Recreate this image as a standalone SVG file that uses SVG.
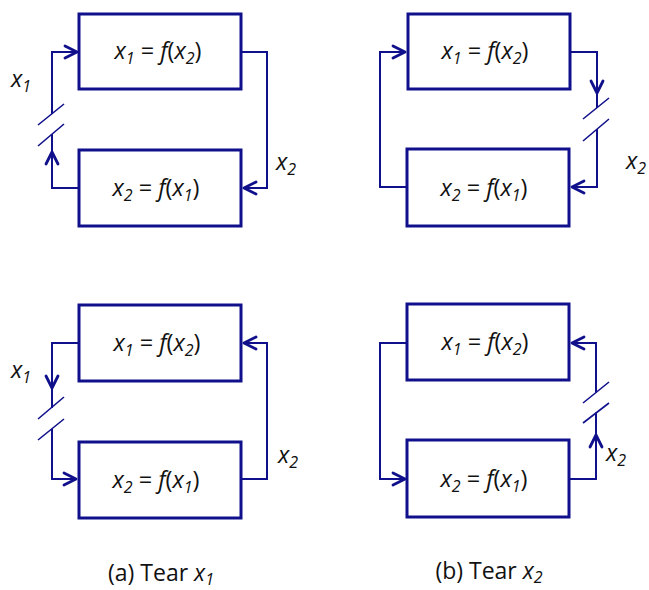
<svg xmlns="http://www.w3.org/2000/svg" width="649" height="590" viewBox="0 0 649 590">
<style>
.box{fill:#fff;stroke:#10108c;stroke-width:3}
.cn{fill:none;stroke:#10108c;stroke-width:2}
.tear{fill:none;stroke:#10108c;stroke-width:1.6}
text{font-family:"Open Sans","Noto Sans",sans-serif;fill:#111}
.eq{font-size:23.5px;text-anchor:middle}
.lb{font-size:23.5px}
.i{font-style:italic}
.s{font-size:16px;font-style:italic}
.cap{font-size:23px;text-anchor:middle}
</style>
<defs>
<marker id="ah" viewBox="-14 -8 16 16" markerWidth="16" markerHeight="16" refX="0" refY="0" orient="auto" markerUnits="userSpaceOnUse">
<path d="M-12,-6 L0,0 L-12,6" fill="none" stroke="#10108c" stroke-width="2.8" stroke-linejoin="round" stroke-linecap="round"/>
</marker>
</defs>

<g id="connectors">
<path class="cn" d="M52,114 V52 H77" marker-end="url(#ah)"/>
<path class="cn" d="M79,188 H52 V152" marker-end="url(#ah)"/>
<path class="cn" d="M52,152 V134"/>
<path class="tear" d="M38,125 L64,104 M38,146 L64,124"/>
<path class="cn" d="M241,52 H267 V188 H244" marker-end="url(#ah)"/>
<path class="cn" d="M407,187 H380 V52 H405" marker-end="url(#ah)"/>
<path class="cn" d="M570,52 H597 V93" marker-end="url(#ah)"/>
<path class="cn" d="M597,93 V108"/>
<path class="tear" d="M583,119 L609,98 M583,141 L609,119"/>
<path class="cn" d="M597,129 V187 H572" marker-end="url(#ah)"/>
<path class="cn" d="M79,343 H52 V388" marker-end="url(#ah)"/>
<path class="cn" d="M52,388 V408"/>
<path class="tear" d="M38,419 L64,397 M38,440 L64,419"/>
<path class="cn" d="M52,429 V479 H76" marker-end="url(#ah)"/>
<path class="cn" d="M241,479 H267 V343 H244" marker-end="url(#ah)"/>
<path class="cn" d="M407,343 H380 V479 H405" marker-end="url(#ah)"/>
<path class="cn" d="M569,479 H596 V435" marker-end="url(#ah)"/>
<path class="cn" d="M596,435 V412.5"/>
<path class="tear" d="M583,403 L609,382 M583,423 L609,403"/>
<path class="cn" d="M596,392.5 V343 H572" marker-end="url(#ah)"/>
</g>

<g id="a-top-1"><rect class="box" x="79" y="14" width="162" height="75"/>
<text class="eq" x="158" y="59"><tspan class="i">x</tspan><tspan class="s" dy="5">1</tspan><tspan dy="-5"> = </tspan><tspan class="i">f</tspan>(<tspan class="i">x</tspan><tspan class="s" dy="5">2</tspan><tspan dy="-5">)</tspan></text></g>
<g id="a-top-2"><rect class="box" x="79" y="150" width="162" height="76"/>
<text class="eq" x="156" y="196"><tspan class="i">x</tspan><tspan class="s" dy="5">2</tspan><tspan dy="-5"> = </tspan><tspan class="i">f</tspan>(<tspan class="i">x</tspan><tspan class="s" dy="5">1</tspan><tspan dy="-5">)</tspan></text></g>
<g id="b-top-1"><rect class="box" x="408" y="14" width="162" height="75"/>
<text class="eq" x="485" y="59"><tspan class="i">x</tspan><tspan class="s" dy="5">1</tspan><tspan dy="-5"> = </tspan><tspan class="i">f</tspan>(<tspan class="i">x</tspan><tspan class="s" dy="5">2</tspan><tspan dy="-5">)</tspan></text></g>
<g id="b-top-2"><rect class="box" x="407" y="149" width="162" height="77"/>
<text class="eq" x="484" y="196"><tspan class="i">x</tspan><tspan class="s" dy="5">2</tspan><tspan dy="-5"> = </tspan><tspan class="i">f</tspan>(<tspan class="i">x</tspan><tspan class="s" dy="5">1</tspan><tspan dy="-5">)</tspan></text></g>
<g id="a-bot-1"><rect class="box" x="79" y="305" width="162" height="76"/>
<text class="eq" x="157" y="351"><tspan class="i">x</tspan><tspan class="s" dy="5">1</tspan><tspan dy="-5"> = </tspan><tspan class="i">f</tspan>(<tspan class="i">x</tspan><tspan class="s" dy="5">2</tspan><tspan dy="-5">)</tspan></text></g>
<g id="a-bot-2"><rect class="box" x="79" y="442" width="162" height="76"/>
<text class="eq" x="156" y="488"><tspan class="i">x</tspan><tspan class="s" dy="5">2</tspan><tspan dy="-5"> = </tspan><tspan class="i">f</tspan>(<tspan class="i">x</tspan><tspan class="s" dy="5">1</tspan><tspan dy="-5">)</tspan></text></g>
<g id="b-bot-1"><rect class="box" x="407" y="304" width="162" height="76"/>
<text class="eq" x="485" y="350"><tspan class="i">x</tspan><tspan class="s" dy="5">1</tspan><tspan dy="-5"> = </tspan><tspan class="i">f</tspan>(<tspan class="i">x</tspan><tspan class="s" dy="5">2</tspan><tspan dy="-5">)</tspan></text></g>
<g id="b-bot-2"><rect class="box" x="407" y="440" width="162" height="77"/>
<text class="eq" x="484" y="487"><tspan class="i">x</tspan><tspan class="s" dy="5">2</tspan><tspan dy="-5"> = </tspan><tspan class="i">f</tspan>(<tspan class="i">x</tspan><tspan class="s" dy="5">1</tspan><tspan dy="-5">)</tspan></text></g>

<g id="labels">
<text class="lb" x="11" y="87"><tspan class="i">x</tspan><tspan class="s" dy="5">1</tspan></text>
<text class="lb" x="276" y="170"><tspan class="i">x</tspan><tspan class="s" dy="5">2</tspan></text>
<text class="lb" x="626" y="169"><tspan class="i">x</tspan><tspan class="s" dy="5">2</tspan></text>
<text class="lb" x="11" y="378"><tspan class="i">x</tspan><tspan class="s" dy="5">1</tspan></text>
<text class="lb" x="278" y="463"><tspan class="i">x</tspan><tspan class="s" dy="5">2</tspan></text>
<text class="lb" x="606" y="461"><tspan class="i">x</tspan><tspan class="s" dy="5">2</tspan></text>
<text class="cap" x="161" y="581">(a) Tear <tspan class="i">x</tspan><tspan class="s" dy="4">1</tspan></text>
<text class="cap" x="489" y="579">(b) Tear <tspan class="i">x</tspan><tspan class="s" dy="4">2</tspan></text>
</g>
</svg>
